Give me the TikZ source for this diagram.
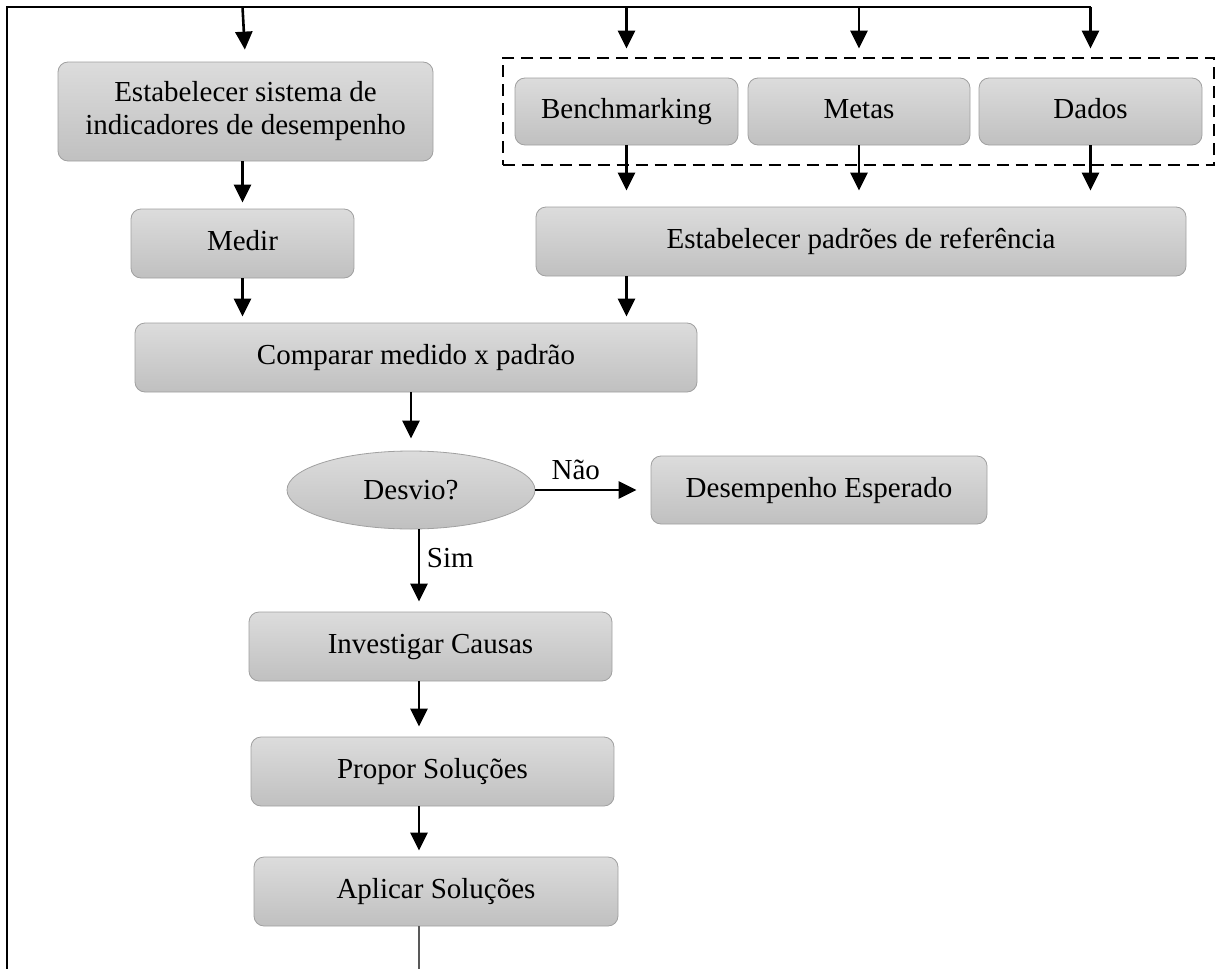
\documentclass[tikz,border=0pt]{standalone}
\usepackage{fontspec}
\setmainfont{Liberation Serif}
\usetikzlibrary{arrows.meta}
\usetikzlibrary{shapes.geometric}
\usetikzlibrary{fit}
\definecolor{boxtop}{RGB}{220,220,220}
\definecolor{boxbot}{RGB}{192,192,192}
\definecolor{boxline}{RGB}{160,160,160}

\begin{document}
\begin{tikzpicture}[x=0.5pt,y=-0.5pt,
  font=\fontsize{14.5}{16.5}\selectfont,
  caixa/.style={rectangle,rounded corners=5pt,draw=boxline,top color=boxtop,bottom color=boxbot,minimum height=34.5pt,inner sep=0pt,align=center,text height=10pt,text depth=3pt},
  seta/.style={line width=1.3pt,-{Triangle[length=9pt,width=8.5pt]},shorten >=3pt}]

\useasboundingbox (0,0) rectangle (1216,969);

% caixas
\node[caixa,minimum width=187.5pt,minimum height=49.5pt,text height={},text depth={}] (est) at (245.5,111.5) {Estabelecer sistema de\\indicadores de desempenho};
\node[caixa,minimum width=111.5pt] (medir) at (242.5,243.5) {Medir};
\node[caixa,minimum width=281pt] (comparar) at (416,357.5) {Comparar medido x padrão};

\node[caixa,minimum width=111.5pt,minimum height=33.5pt] (bench) at (626.5,111.5) {Benchmarking};
\node[caixa,minimum width=111pt,minimum height=33.5pt] (metas) at (859,111.5) {Metas};
\node[caixa,minimum width=111.5pt,minimum height=33.5pt] (dados) at (1090.5,111.5) {Dados};
\node[draw,line width=1pt,dash pattern=on 6pt off 3.5pt,fit=(bench)(metas)(dados),inner xsep=6pt,inner ysep=10pt] (grupo) {};

\node[caixa,minimum width=325pt] (padroes) at (861,241.5) {Estabelecer padrões de referência};

\node[ellipse,draw=boxline,top color=boxtop,bottom color=boxbot,minimum width=124pt,minimum height=39pt,inner sep=0pt] (desvio) at (411,490) {Desvio?};
\node[caixa,minimum width=168pt,minimum height=34pt] (esperado) at (819,490) {Desempenho Esperado};

\node[caixa,minimum width=181.5pt] (investigar) at (430.5,646.5) {Investigar Causas};
\node[caixa,minimum width=181.5pt] (propor) at (432.5,771.5) {Propor Soluções};
\node[caixa,minimum width=182pt] (aplicar) at (436,891.5) {Aplicar Soluções};

\coordinate (canto) at (7,7);
\coordinate (base) at (7,969);
\coordinate (eixo) at (419,969);

% moldura e entradas
\draw[line width=1pt] (base) -- (canto) -- (canto -| dados.north);
\draw[seta,shorten >=6pt] (canto -| medir.north) -- (est.north);
\foreach \n in {bench,metas,dados}
  \draw[seta,shorten >=4pt] (canto -| \n.north) -- (grupo.north -| \n.north);

% ligacoes
\draw[seta] (est.south -| medir.north) -- (medir.north);
\foreach \n in {bench,metas,dados}
  \draw[seta,shorten >=8pt] (\n.south) -- (\n.south |- padroes.north);
\draw[seta] (medir.south) -- (medir.south |- comparar.north);
\draw[seta] (padroes.south -| bench.south) -- (comparar.north -| bench.south);
\draw[seta,shorten >=6pt] (comparar.south -| desvio.north) -- (desvio.north);
\draw[seta,shorten >=7pt] (desvio.east) -- (esperado.west) node[pos=0.35,above,yshift=1pt]{Não};
\draw[seta,shorten >=5pt] (desvio.south -| eixo) -- (investigar.north -| eixo) node[pos=0.35,right]{Sim};
\draw[seta,shorten >=5pt] (investigar.south -| eixo) -- (propor.north -| eixo);
\draw[seta] (propor.south -| eixo) -- (aplicar.north -| eixo);
\draw[gray!70!black,line width=0.6pt] (aplicar.south -| eixo) -- (eixo);

\end{tikzpicture}
\end{document}
